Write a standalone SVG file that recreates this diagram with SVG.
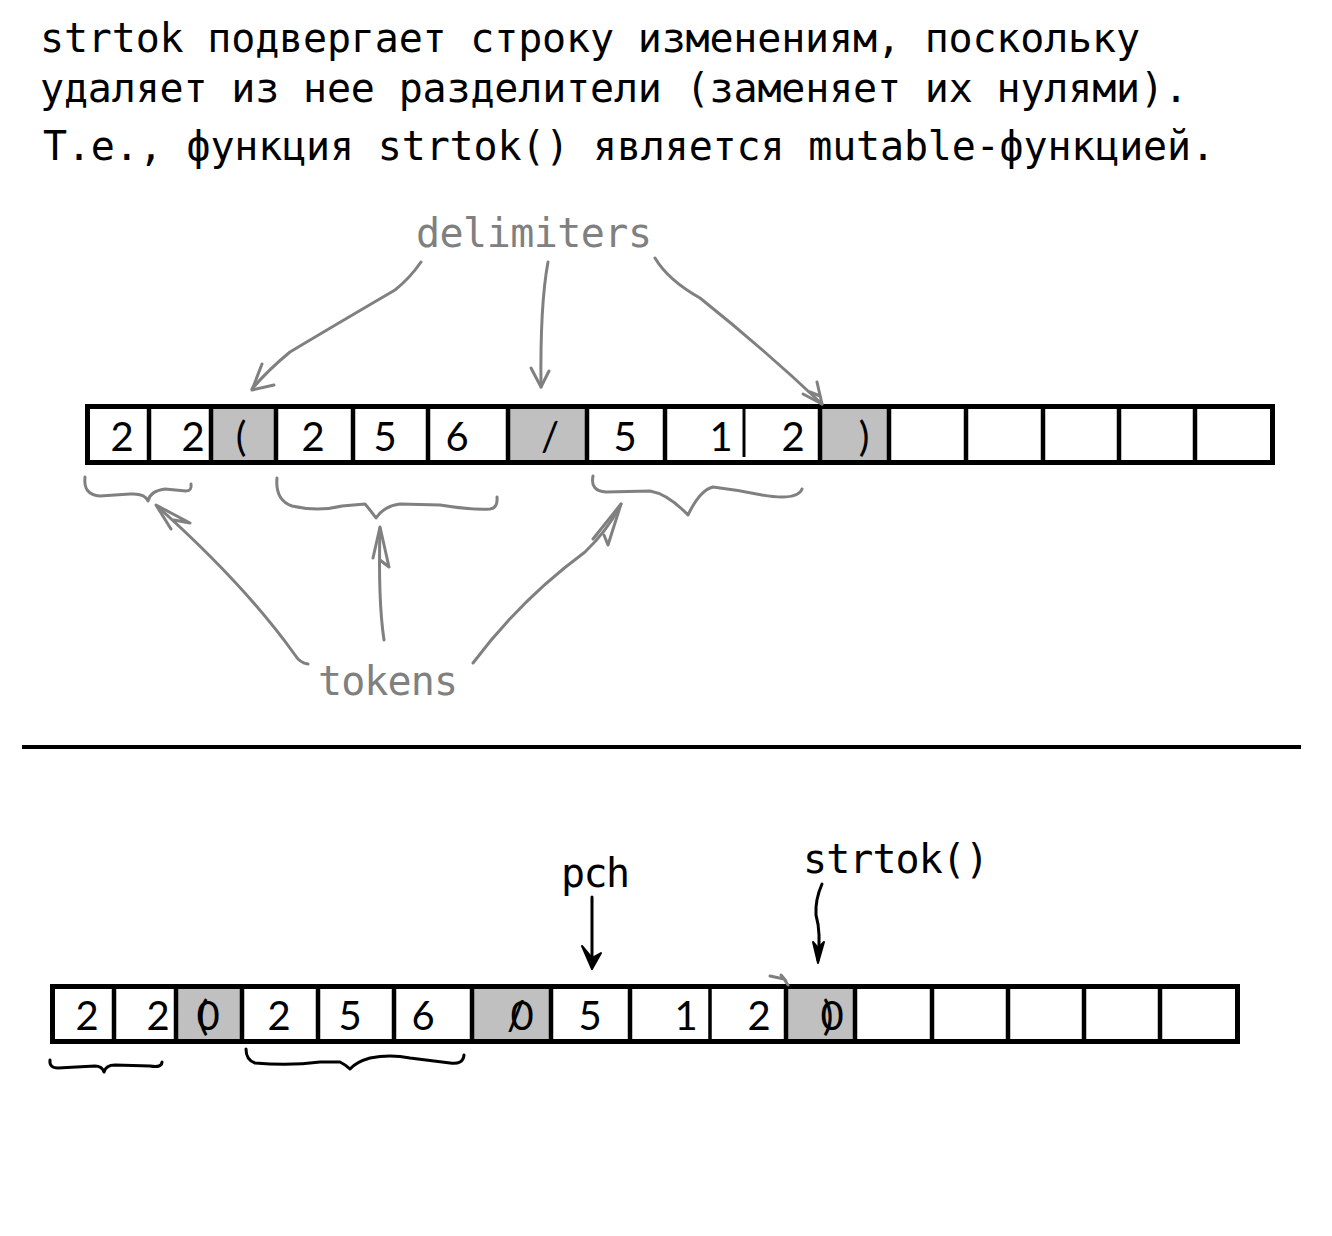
<svg xmlns="http://www.w3.org/2000/svg" width="1332" height="1236" viewBox="0 0 1332 1236">
<style>
.mono{font-family:"DejaVu Sans Mono","Liberation Mono",monospace;font-size:40px}
.cell{font-family:Lato,"Noto Sans","Liberation Sans",sans-serif;font-size:40px;text-anchor:middle;fill:#000}
.gray{fill:#808080}
.box{fill:#fff;stroke:#000;stroke-width:5}
.div{stroke:#000;stroke-width:4.5}
.sel{fill:#c0c0c0}
.g{fill:none;stroke:#808080;stroke-width:3;stroke-linecap:round;stroke-linejoin:round}
.k{fill:none;stroke:#000;stroke-width:3;stroke-linecap:round;stroke-linejoin:round}
</style>
<rect width="1332" height="1236" fill="#fff"/>

<g id="caption" class="mono" fill="#000">
<text x="40" y="52" textLength="1100" lengthAdjust="spacing">strtok подвергает строку изменениям, поскольку</text>
<text x="40" y="102" textLength="1148" lengthAdjust="spacing">удаляет из нее разделители (заменяет их нулями).</text>
<text x="43" y="160" textLength="1172" lengthAdjust="spacing">Т.е., функция strtok() является mutable-функцией.</text>
</g>

<g id="label-delimiters" class="mono gray"><text x="416" y="247" textLength="236" lengthAdjust="spacing">delimiters</text></g>
<g id="label-tokens" class="mono gray"><text x="318" y="695" textLength="140" lengthAdjust="spacing">tokens</text></g>

<g id="array-top">
<rect class="box" x="87.5" y="406.5" width="1185" height="56"/>
<rect class="sel" x="211" y="409" width="65" height="51"/>
<rect class="sel" x="508" y="409" width="79" height="51"/>
<rect class="sel" x="820" y="409" width="69" height="51"/>
<g class="div">
<line x1="149" y1="406" x2="149" y2="463"/>
<line x1="211" y1="406" x2="211" y2="463"/>
<line x1="276" y1="406" x2="276" y2="463"/>
<line x1="353" y1="406" x2="353" y2="463"/>
<line x1="428" y1="406" x2="428" y2="463"/>
<line x1="508" y1="406" x2="508" y2="463"/>
<line x1="587" y1="406" x2="587" y2="463"/>
<line x1="665" y1="406" x2="665" y2="463"/>
<line x1="744" y1="406" x2="744" y2="457" stroke-width="3"/>
<line x1="820" y1="406" x2="820" y2="463"/>
<line x1="889" y1="406" x2="889" y2="463"/>
<line x1="966" y1="406" x2="966" y2="463"/>
<line x1="1043" y1="406" x2="1043" y2="463"/>
<line x1="1119" y1="406" x2="1119" y2="463"/>
<line x1="1195" y1="406" x2="1195" y2="463"/>
</g>
<g class="cell">
<text x="122" y="451">2</text>
<text x="193" y="451">2</text>
<text x="241" y="451">(</text>
<text x="313" y="451">2</text>
<text x="385" y="451">5</text>
<text x="457" y="451">6</text>
<text x="550" y="451">/</text>
<text x="625" y="451">5</text>
<text x="721" y="451">1</text>
<text x="793" y="451">2</text>
<text x="864" y="451">)</text>
</g>
</g>

<g id="braces-top" class="g">
<path d="M85,477 Q83,495 100,496 L130,494 Q145,493 148,501 Q150,491 165,489 L186,491 Q192,491 191,484"/>
<path d="M277,478 Q275,500 292,506 Q318,512 342,506 L365,504 Q371,511 376,518 Q384,506 400,504 L440,505 Q470,510 490,509 Q498,508 497,497"/>
<path d="M593,476 Q590,491 606,492 L650,491 Q668,494 688,515 Q700,490 713,487 Q738,490 762,495 Q797,501 802,489"/>
</g>

<g id="separator"><line x1="22" y1="747" x2="1301" y2="747" stroke="#000" stroke-width="4"/></g>

<g id="label-pch" class="mono" fill="#000"><text x="561" y="887" textLength="69" lengthAdjust="spacing">pch</text></g>
<g id="label-strtok" class="mono" fill="#000"><text x="803" y="873" textLength="186" lengthAdjust="spacing">strtok()</text></g>

<g id="array-bottom">
<rect class="box" x="52.5" y="986.5" width="1185" height="55"/>
<rect class="sel" x="176" y="989" width="66" height="50"/>
<rect class="sel" x="472" y="989" width="79" height="50"/>
<rect class="sel" x="786" y="989" width="69" height="50"/>
<g class="div">
<line x1="114" y1="986" x2="114" y2="1043"/>
<line x1="176" y1="986" x2="176" y2="1043"/>
<line x1="242" y1="986" x2="242" y2="1043"/>
<line x1="318" y1="986" x2="318" y2="1043"/>
<line x1="394" y1="986" x2="394" y2="1043"/>
<line x1="472" y1="986" x2="472" y2="1043"/>
<line x1="551" y1="986" x2="551" y2="1043"/>
<line x1="630" y1="986" x2="630" y2="1043"/>
<line x1="710" y1="986" x2="710" y2="1040" stroke-width="3.5"/>
<line x1="786" y1="986" x2="786" y2="1043"/>
<line x1="855" y1="986" x2="855" y2="1043"/>
<line x1="932" y1="986" x2="932" y2="1043"/>
<line x1="1008" y1="986" x2="1008" y2="1043"/>
<line x1="1084" y1="986" x2="1084" y2="1043"/>
<line x1="1160" y1="986" x2="1160" y2="1043"/>
</g>
<g class="cell">
<text x="87" y="1030">2</text>
<text x="158" y="1030">2</text>
<text x="203" y="1030">(</text>
<text x="208" y="1030">0</text>
<text x="279" y="1030">2</text>
<text x="350" y="1030">5</text>
<text x="423" y="1030">6</text>
<text x="516" y="1030">/</text>
<text x="522" y="1030">0</text>
<text x="590" y="1030">5</text>
<text x="686" y="1030">1</text>
<text x="759" y="1030">2</text>
<text x="828" y="1030">)</text>
<text x="832" y="1030">0</text>
</g>
</g>

<g id="braces-bottom" class="k">
<path d="M50,1060 Q49,1068 58,1068 L95,1066 Q102,1066 104,1072 Q106,1065 115,1065 L150,1066 Q162,1068 162,1062"/>
<path d="M246,1049 Q246,1060 255,1063 Q290,1066 320,1062 L340,1062 Q346,1065 350,1069 Q356,1062 370,1058 Q390,1054 410,1058 L450,1063 Q463,1065 464,1055"/>
</g>

<g id="connectors">
<g class="g">
<path d="M421,262 Q410,278 395,290 Q330,328 290,352 Q268,370 252,389"/>
<path d="M262,364 L252,390 L274,385"/>
<path d="M548,262 Q540,305 541,387"/>
<path d="M531,368 L541,387 L549,371"/>
<path d="M655,258 Q668,280 700,298 Q765,350 822,404"/>
<path d="M803,394 L822,404 L817,382 M810,392 L820,396"/>
<path d="M308,664 Q300,663 295,655 Q245,585 158,507"/>
<path d="M171,529 L156,505 L190,523 L174,520"/>
<path d="M384,640 Q378,600 380,528"/>
<path d="M373,558 L380,527 L389,567 L380,560"/>
<path d="M473,663 Q520,600 585,552 Q608,530 621,504"/>
<path d="M593,539 L621,504 L608,545 L604,535"/>
<path d="M770,976 L784,979 L788,985 M781,975 L786,981"/>
</g>
<g class="k">
<path d="M592,897 L592,966"/>
<path d="M822,884 Q815,900 816,915 Q821,932 818,960"/>
</g>
<polygon points="582,946 592,969 601,953 592,958" fill="#000" stroke="#000" stroke-width="2" stroke-linejoin="round"/>
<polygon points="813,942 818,963 824,942 818,948" fill="#000" stroke="#000" stroke-width="2" stroke-linejoin="round"/>
</g>
</svg>
